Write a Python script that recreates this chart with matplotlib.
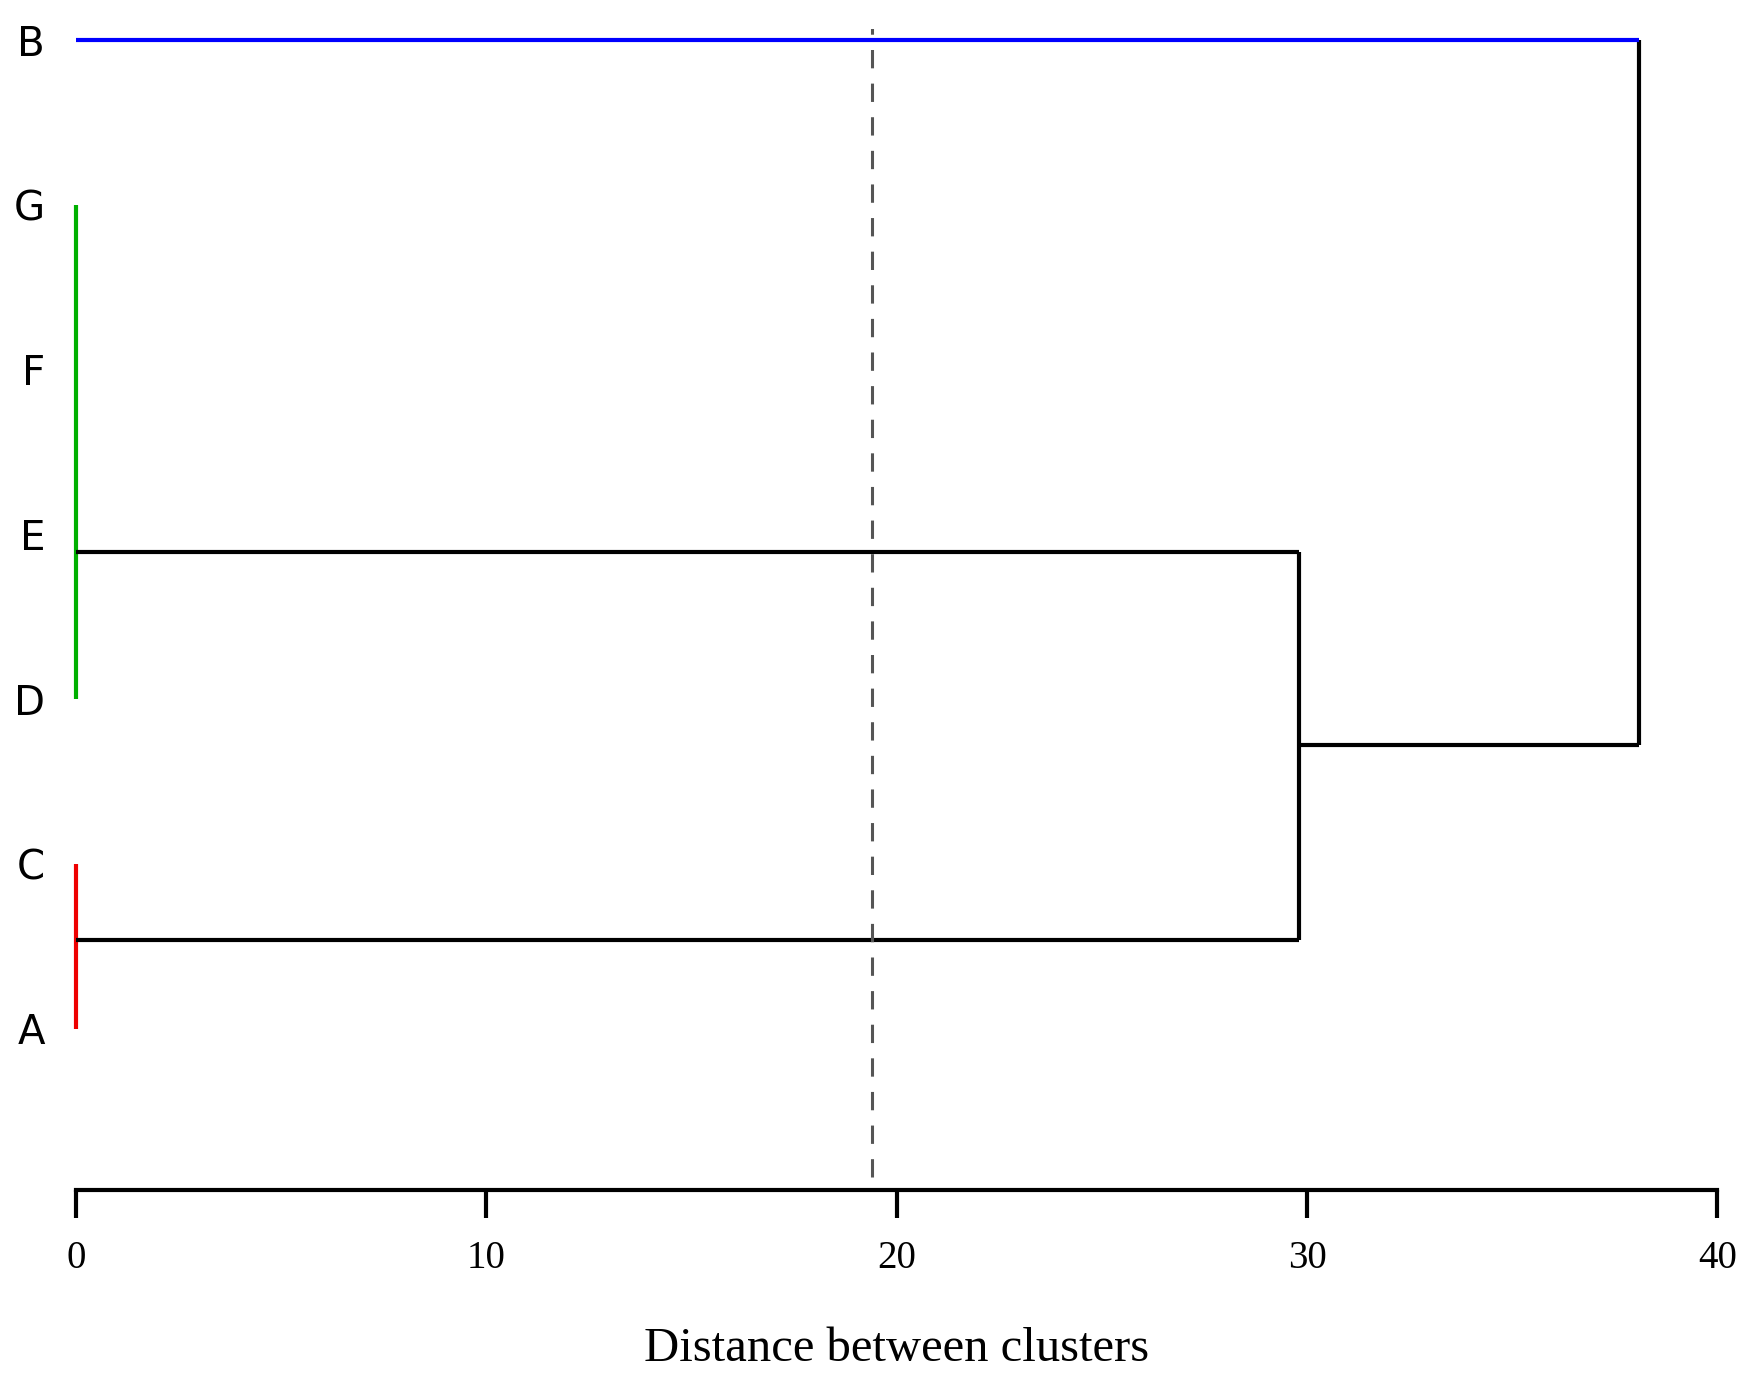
import matplotlib
matplotlib.use("Agg")
import matplotlib.pyplot as plt

leaves = ["A", "C", "D", "E", "F", "G", "B"]
leaf_pos = [0, 1, 2, 3, 4, 5, 6]
merge_green = 29.8      # distance of green cluster join
merge_red = 29.8
merge_top = 38.1
cut_line = 19.4
green_y = 2.89
red_y = 0.54
top_y = 1.72
xticks = [0, 10, 20, 30, 40]

fig = plt.figure(figsize=(17.4, 13.91), dpi=100)
ax = fig.add_axes([0.0435, 0.1445, 0.9435, 0.835])

kw = dict(lw=3, clip_on=False, solid_capstyle="butt")
ax.plot([0, 0], [leaf_pos[2], leaf_pos[5]], color="#00b000", **kw)
ax.plot([0, 0], [leaf_pos[0], leaf_pos[1]], color="#ee0000", **kw)
ax.plot([0, merge_green], [green_y, green_y], color="black", **kw)
ax.plot([0, merge_red], [red_y, red_y], color="black", **kw)
ax.plot([merge_green, merge_green], [red_y, green_y], color="black", **kw)
ax.plot([merge_green, merge_top], [top_y, top_y], color="black", **kw)
ax.plot([merge_top, merge_top], [top_y, leaf_pos[6]], color="black", **kw)
ax.plot([0, merge_top], [leaf_pos[6], leaf_pos[6]], color="#0000ff", **kw)
ax.plot([cut_line, cut_line], [-0.9, 6.1], color="#555555", lw=2.2, ls=(0, (6, 5)))

ax.set_xlim(0, 40)
ax.set_ylim(-0.98, 6.07)
for s in ["top", "right", "left"]:
    ax.spines[s].set_visible(False)
ax.spines["bottom"].set_linewidth(3)
ax.set_xticks(xticks)
ax.set_xticklabels([str(t) for t in xticks], family="Liberation Serif", fontsize=28)
ax.tick_params(axis="x", direction="out", length=20, width=3, pad=16)
ax.set_yticks(leaf_pos)
ax.set_yticklabels(leaves, family="DejaVu Sans", fontsize=29)
ax.tick_params(axis="y", length=0, pad=22)
ax.set_xlabel("Distance between clusters", family="Liberation Serif", fontsize=35, labelpad=36)

fig.savefig("out.png", dpi=100)
